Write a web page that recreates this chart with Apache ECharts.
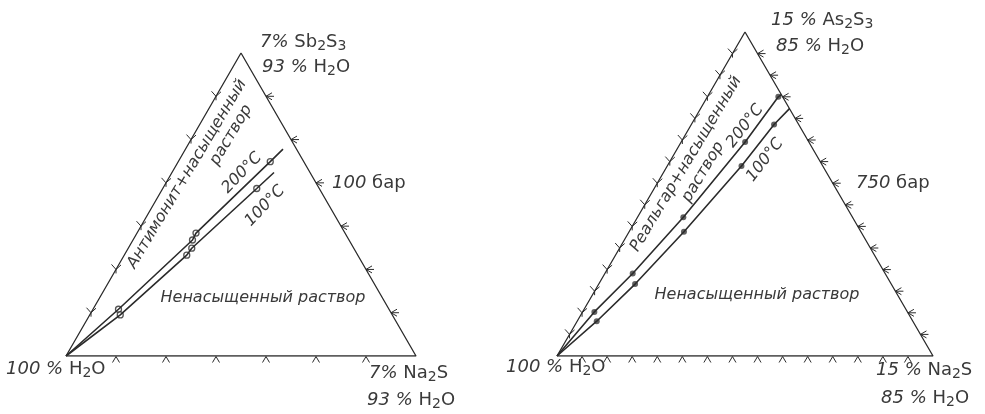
<!DOCTYPE html>
<html>
<head>
<meta charset="utf-8">
<script src="https://cdn.jsdelivr.net/npm/echarts@6/dist/echarts.min.js"></script>
<style>
  html, body { margin: 0; padding: 0; background: #fff; }
  #chart { width: 985px; height: 414px; }
</style>
</head>
<body>
<div id="chart"></div>
<script>
// Solubility in the Me2S3 – Na2S – H2O systems; compositions are wt % (Na2S, Me2S3).

// Sb2S3 – Na2S – H2O, 100 bar (corner = 7 %)
const sbScale = 7;
const sbTicks = [1, 2, 3, 4, 5, 6];
const sb200Points = [[0.51, 1.08], [1.19, 2.68], [1.18, 2.84], [1.84, 4.49]];
const sb200End = [1.95, 4.78];
const sb100Points = [[0.61, 0.95], [1.25, 2.33], [1.27, 2.49], [1.88, 3.87]];
const sb100End = [2.04, 4.24];

// As2S3 – Na2S – H2O, 750 bar (corner = 15 %)
const asScale = 15;
const asTicks = [1, 2, 3, 4, 5, 6, 7, 8, 9, 10, 11, 12, 13, 14];
const as200Points = [[0.47, 2.04], [1.11, 3.82], [1.83, 6.42], [2.55, 9.91], [2.83, 12.0]];
const as200End = [2.9, 12.1];
const as100Points = [[0.78, 1.61], [1.45, 3.33], [2.19, 5.75], [2.96, 8.80], [3.30, 10.72]];
const as100End = [3.55, 11.45];

const origin = [0, 0];
const SQ = Math.sqrt(3) / 2;
// ternary (Na2S, Me2S3) -> cartesian
const toXY = (p) => [p[0] + p[1] / 2, p[1] * SQ];

const INK = '#2b2b2b';
const TXT = '#3a3a3a';
const FONT = 'DejaVu Sans';

function tickData(scale, ticks) {
  const d = [];
  ticks.forEach(t => {
    const b = toXY([t, 0]); d.push([b[0], b[1], 0]);
    const r = toXY([scale - t, t]); d.push([r[0], r[1], 1]);
    const l = toXY([0, t]); d.push([l[0], l[1], 2]);
  });
  return d;
}

function renderTick(params, api) {
  const p = api.coord([api.value(0), api.value(1)]);
  const side = api.value(2);
  const st = { stroke: INK, lineWidth: 1, fill: null };
  const children = [];
  if (side === 0) {        // base: caret below the edge
    children.push({ type: 'polyline', style: st,
      shape: { points: [[p[0] - 3.5, p[1] + 6.5], [p[0], p[1] + 0.5], [p[0] + 3.5, p[1] + 6.5]] } });
  } else if (side === 1) { // right edge: arrow pointing left
    children.push({ type: 'polyline', style: st,
      shape: { points: [[p[0] + 6, p[1] - 3.5], [p[0], p[1]], [p[0] + 6, p[1] + 3.5]] } });
    children.push({ type: 'line', style: st,
      shape: { x1: p[0], y1: p[1], x2: p[0] + 8, y2: p[1] } });
  } else {                 // left edge: fork straddling the edge
    children.push({ type: 'polyline', style: st,
      shape: { points: [[p[0] - 4.5, p[1] - 5], [p[0], p[1]], [p[0] + 5, p[1] - 4.5]] } });
    children.push({ type: 'line', style: st,
      shape: { x1: p[0], y1: p[1], x2: p[0], y2: p[1] + 4 } });
  }
  return { type: 'group', children };
}

function triangle(scale, idx) {
  return {
    type: 'line', xAxisIndex: idx, yAxisIndex: idx, silent: true,
    data: [toXY(origin), toXY([scale, 0]), toXY([0, scale]), toXY(origin)],
    symbol: 'none', lineStyle: { color: INK, width: 1.3 }
  };
}

function curve(points, end, idx) {
  return {
    type: 'line', xAxisIndex: idx, yAxisIndex: idx, silent: true,
    data: [origin].concat(points, [end]).map(toXY),
    symbol: 'none', lineStyle: { color: INK, width: 1.6 }
  };
}

function marks(points, idx, open) {
  return {
    type: 'scatter', xAxisIndex: idx, yAxisIndex: idx, silent: true,
    data: points.map(toXY), symbol: 'circle', symbolSize: 6,
    itemStyle: open ? { color: '#fff', borderColor: INK, borderWidth: 1.3 } : { color: '#3a3a3a' }
  };
}

function label(text, x, y, size, opts) {
  opts = opts || {};
  return {
    type: 'text', x, y, rotation: (opts.rot || 0) * Math.PI / 180,
    silent: true,
    style: {
      text, fill: TXT,
      fontFamily: FONT, fontSize: size, fontStyle: opts.italic ? 'italic' : 'normal',
      align: opts.align || 'left', verticalAlign: 'middle',
      rich: {
        i: { fontStyle: 'italic', fontSize: size, fontFamily: FONT, fill: TXT },
        s: { fontSize: Math.round(size * 0.75), fontFamily: FONT, fill: TXT, padding: [Math.round(size * 0.5), 0, 0, 0] },
        n: { fontSize: size, fontFamily: FONT, fill: TXT }
      }
    }
  };
}

const chart = echarts.init(document.getElementById('chart'), null, { renderer: 'canvas' });

chart.setOption({
  animation: false,
  backgroundColor: '#fff',
  grid: [
    { left: 66, top: 53, width: 350, height: 303 },
    { left: 557, top: 32, width: 376, height: 324 }
  ],
  xAxis: [
    { gridIndex: 0, type: 'value', min: 0, max: sbScale, show: false },
    { gridIndex: 1, type: 'value', min: 0, max: asScale, show: false }
  ],
  yAxis: [
    { gridIndex: 0, type: 'value', min: 0, max: sbScale * SQ, show: false },
    { gridIndex: 1, type: 'value', min: 0, max: asScale * SQ, show: false }
  ],
  series: [
    triangle(sbScale, 0),
    triangle(asScale, 1),
    { type: 'custom', xAxisIndex: 0, yAxisIndex: 0, silent: true, renderItem: renderTick,
      encode: { x: 0, y: 1 }, data: tickData(sbScale, sbTicks) },
    { type: 'custom', xAxisIndex: 1, yAxisIndex: 1, silent: true, renderItem: renderTick,
      encode: { x: 0, y: 1 }, data: tickData(asScale, asTicks) },
    curve(sb200Points, sb200End, 0),
    curve(sb100Points, sb100End, 0),
    curve(as200Points, as200End, 1),
    curve(as100Points, as100End, 1),
    marks(sb200Points, 0, true),
    marks(sb100Points, 0, true),
    marks(as200Points, 1, false),
    marks(as100Points, 1, false)
  ],
  graphic: [
    // Sb2S3 system
    label('{i|7%} {n|Sb}{s|2}{n|S}{s|3}', 260, 42, 18),
    label('{i|93 %} {n|H}{s|2}{n|O}', 262, 67, 18),
    label('{i|100} {n|бар}', 332, 183, 18),
    label('{i|100 %} {n|H}{s|2}{n|O}', 6, 369, 18),
    label('{i|7%} {n|Na}{s|2}{n|S}', 369, 373, 18),
    label('{i|93 %} {n|H}{s|2}{n|O}', 367, 400, 18),
    label('Антимонит+насыщенный', 187, 174, 16, { italic: true, rot: 59, align: 'center' }),
    label('раствор', 231, 135, 16, { italic: true, rot: 59, align: 'center' }),
    label('200°C', 242, 173, 16, { italic: true, rot: 46, align: 'center' }),
    label('100°C', 265, 206, 16, { italic: true, rot: 46, align: 'center' }),
    label('Ненасыщенный раствор', 263, 298, 16, { italic: true, align: 'center' }),
    // As2S3 system
    label('{i|15 %} {n|As}{s|2}{n|S}{s|3}', 771, 20, 18),
    label('{i|85 %} {n|H}{s|2}{n|O}', 776, 46, 18),
    label('{i|750} {n|бар}', 856, 183, 18),
    label('{i|100 %} {n|H}{s|2}{n|O}', 506, 367, 18),
    label('{i|15 %} {n|Na}{s|2}{n|S}', 876, 370, 18),
    label('{i|85 %} {n|H}{s|2}{n|O}', 881, 398, 18),
    label('Реальгар+насыщенный', 686, 164, 16, { italic: true, rot: 59, align: 'center' }),
    label('раствор', 703, 172, 16, { italic: true, rot: 59, align: 'center' }),
    label('200°C', 745, 126, 16, { italic: true, rot: 52, align: 'center' }),
    label('100°C', 765, 160, 16, { italic: true, rot: 52, align: 'center' }),
    label('Ненасыщенный раствор', 757, 295, 16, { italic: true, align: 'center' })
  ]
});
</script>
</body>
</html>
